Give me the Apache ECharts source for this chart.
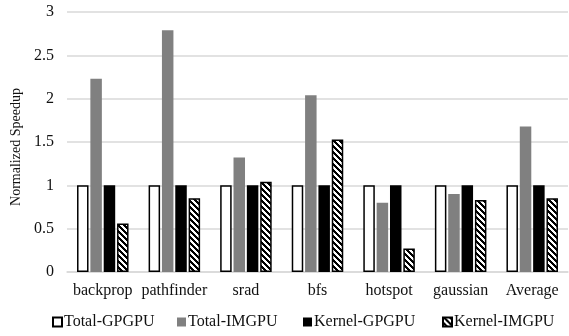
<!DOCTYPE html>
<html><head><meta charset="utf-8">
<script src="https://cdn.jsdelivr.net/npm/echarts@6/dist/echarts.min.js"></script>
<style>html,body{margin:0;padding:0;background:#fff}#c{width:569px;height:336px}</style>
</head><body><div id="c"></div>
<script>
const categories = ['backprop','pathfinder','srad','bfs','hotspot','gaussian','Average'];
const totalGPGPU = [1,1,1,1,1,1,1];
const totalIMGPU = [2.23,2.79,1.32,2.04,0.80,0.90,1.68];
const kernelGPGPU = [1,1,1,1,1,1,1];
const kernelIMGPU = [0.56,0.85,1.04,1.53,0.27,0.83,0.85];
const seriesNames = ['Total-GPGPU','Total-IMGPU','Kernel-GPGPU','Kernel-IMGPU'];

function hatch(){
  const c = document.createElement('canvas');
  c.width = 6; c.height = 6;
  const g = c.getContext('2d');
  g.fillStyle = '#fff'; g.fillRect(0,0,6,6);
  g.fillStyle = '#000';
  for (let x=0;x<6;x++) for (let y=0;y<6;y++){
    const d = ((x - y) % 6 + 6) % 6;
    if (d < 3) g.fillRect(x,y,1,1);
  }
  return {image: c, repeat: 'repeat'};
}

const font = 'Liberation Serif';
const chart = echarts.init(document.getElementById('c'), null, {renderer:'canvas'});
const styles = [
  {color:'#fff', borderColor:'#000', borderWidth:1.5},
  {color:'#808080'},
  {color:'#000'},
  {color:hatch(), borderColor:'#000', borderWidth:1.5}
];
const datas = [totalGPGPU,totalIMGPU,kernelGPGPU,kernelIMGPU];
const legendX = [52,177,303,442];
chart.setOption({
  animation:false,
  textStyle:{fontFamily:font},
  grid:{left:67,right:1,top:12,bottom:64},
  legend: seriesNames.map((n,i)=>({
    data:[n], left:legendX[i], top:314, itemWidth:9, itemHeight:9,
    icon:'rect', selectedMode:false, padding:0,
    textStyle:{fontFamily:font,fontSize:16,color:'#111',padding:[0,0,0,-3]}
  })),
  xAxis:{type:'category',data:categories,
    axisLine:{lineStyle:{color:'#d9d9d9',width:1.5}},
    axisTick:{show:false},
    axisLabel:{interval:0,fontFamily:font,fontSize:16,color:'#111',margin:11}},
  yAxis:{type:'value',min:0,max:3,interval:0.5,
    name:'Normalized Speedup',nameLocation:'middle',nameGap:39,nameRotate:90,
    nameTextStyle:{fontFamily:font,fontSize:14,color:'#111',padding:[0,10,0,0]},
    axisLine:{show:false},axisTick:{show:false},
    axisLabel:{fontFamily:font,fontSize:16,color:'#111',margin:13},
    splitLine:{lineStyle:{color:'#d9d9d9',width:1.5}}},
  series: seriesNames.map((n,i)=>({
    name:n,type:'bar',data:datas[i],barWidth:11.5,barGap:'16%',
    itemStyle:styles[i]
  }))
});
</script></body></html>
